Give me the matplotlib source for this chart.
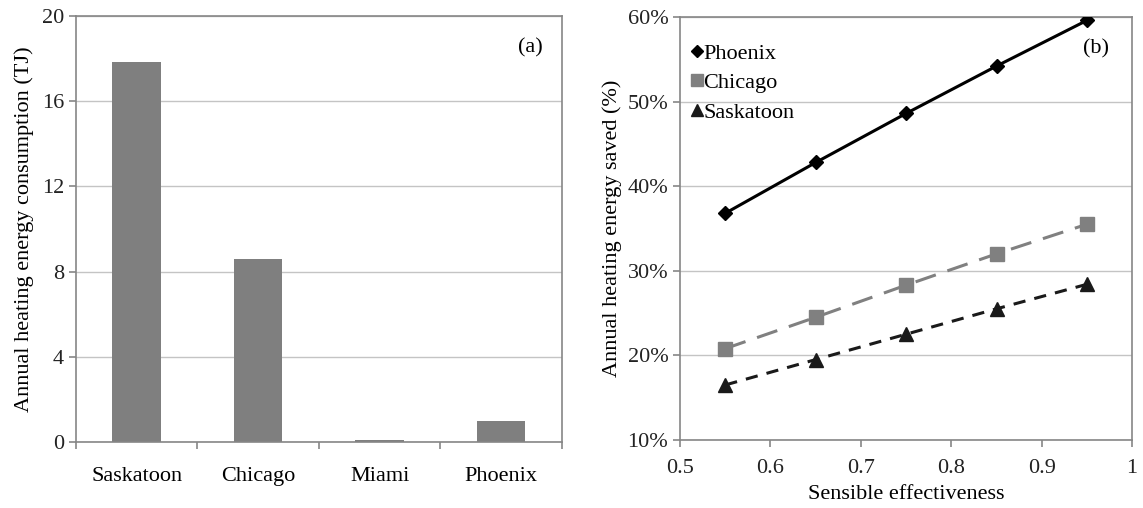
import matplotlib

matplotlib.use("Agg")
import matplotlib.pyplot as plt
from matplotlib.lines import Line2D
from matplotlib.ticker import FixedLocator, FuncFormatter, NullFormatter

# (a) annual heating energy consumption per city, TJ
cities = ["Saskatoon", "Chicago", "Miami", "Phoenix"]
heating_tj = [17.85, 8.6, 0.1, 1.0]

# (b) share of heating energy saved vs. sensible effectiveness, %
effectiveness = [0.55, 0.65, 0.75, 0.85, 0.95]
saved_phoenix = [36.8, 42.8, 48.6, 54.2, 59.6]
saved_chicago = [20.8, 24.5, 28.3, 32.0, 35.5]
saved_saskatoon = [16.5, 19.5, 22.5, 25.5, 28.4]

plt.rcParams["font.family"] = ["Liberation Serif", "DejaVu Serif"]
plt.rcParams["font.size"] = 16

FRAME = "#868686"
GRID = "#c4c4c4"


def style_frame(ax):
    for sp in ax.spines.values():
        sp.set_color(FRAME)
        sp.set_linewidth(1.2)
    ax.tick_params(direction="out", color=FRAME, width=1.2, length=5, colors="#222222")
    ax.grid(axis="y", color=GRID, linewidth=1.0)
    ax.set_axisbelow(True)


fig = plt.figure(figsize=(11.43, 5.08), dpi=100)

# ---- panel (a): bars
ax1 = fig.add_axes([0.0665, 0.130, 0.425, 0.8385])
pos = list(range(len(cities)))
ax1.bar(pos, heating_tj, width=0.4, color="#7f7f7f", zorder=2)
ax1.set_xlim(-0.5, len(cities) - 0.5)
ax1.set_ylim(0, 20)
ax1.set_yticks([0, 4, 8, 12, 16, 20])
ax1.xaxis.set_major_locator(FixedLocator([p - 0.5 for p in pos] + [len(cities) - 0.5]))
ax1.xaxis.set_major_formatter(NullFormatter())
ax1.xaxis.set_minor_locator(FixedLocator(pos))
ax1.set_xticklabels(cities, minor=True)
style_frame(ax1)
ax1.tick_params(axis="x", which="minor", length=0, pad=18)
ax1.set_ylabel("Annual heating energy consumption (TJ)", labelpad=6)
ax1.text(0.935, 0.925, "(a)", transform=ax1.transAxes, ha="center", va="center")

# ---- panel (b): lines
ax2 = fig.add_axes([0.595, 0.134, 0.3955, 0.8325])
ax2.plot(effectiveness, saved_phoenix, color="black", linewidth=2.2,
         marker="D", markersize=7, zorder=3)
ax2.plot(effectiveness, saved_chicago, color="#808080", linewidth=2.2,
         linestyle=(0, (7, 4)), marker="s", markersize=10, zorder=3)
ax2.plot(effectiveness, saved_saskatoon, color="#1a1a1a", linewidth=2.2,
         linestyle=(0, (4, 3)), marker="^", markersize=10, zorder=3)
ax2.set_xlim(0.5, 1.0)
ax2.set_ylim(10, 60)
ax2.set_xticks([0.5, 0.6, 0.7, 0.8, 0.9, 1.0])
ax2.xaxis.set_major_formatter(FuncFormatter(lambda v, _: "1" if v == 1 else f"{v:.1f}"))
ax2.set_yticks([10, 20, 30, 40, 50, 60])
ax2.yaxis.set_major_formatter(FuncFormatter(lambda v, _: f"{v:.0f}%"))
style_frame(ax2)
ax2.tick_params(axis="x", pad=9)
ax2.set_xlabel("Sensible effectiveness", labelpad=5)
ax2.set_ylabel("Annual heating energy saved (%)", labelpad=4)
ax2.text(0.92, 0.925, "(b)", transform=ax2.transAxes, ha="center", va="center")

handles = [
    Line2D([], [], color="black", marker="D", markersize=6, linestyle="none"),
    Line2D([], [], color="#808080", marker="s", markersize=9, linestyle="none"),
    Line2D([], [], color="#1a1a1a", marker="^", markersize=9, linestyle="none"),
]
ax2.legend(handles, ["Phoenix", "Chicago", "Saskatoon"], loc="upper left",
           bbox_to_anchor=(-0.01, 0.975), frameon=False, handlelength=0.5,
           handletextpad=0.05, labelspacing=0.4, borderaxespad=0.3)

fig.savefig("out.png", dpi=100)
